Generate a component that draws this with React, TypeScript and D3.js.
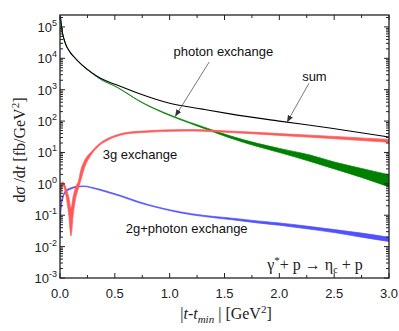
import { useEffect, useRef } from 'react';
import * as d3 from 'd3';

// sum of all contributions (black line)
const sumT = [0.003, 0.018, 0.049, 0.09, 0.14, 0.2, 0.28, 0.37, 0.52, 0.7, 1.0, 1.3, 1.55, 2.0, 2.46, 3.0];
const sumV = [2.2e5, 8e4, 3e4, 1.6e4, 1e4, 6200, 3700, 2300, 1400, 800, 370, 240, 170, 100, 60, 31];

// photon exchange band (green)
const photonT = [0.003, 0.018, 0.049, 0.09, 0.14, 0.2, 0.28, 0.37, 0.52, 0.63, 0.7, 0.85, 1.04, 1.32, 1.55, 1.8, 2.0, 2.28, 2.5, 2.75, 3.0];
const photonHi = [2.2e5, 8e4, 3e4, 1.6e4, 1e4, 6100, 3600, 2150, 1200, 700, 490, 265, 140, 63, 34, 19.5, 13.5, 8.3, 5.0, 3.1, 1.95];
const photonLo = [2.2e5, 8e4, 3e4, 1.6e4, 1e4, 6100, 3600, 2150, 1200, 690, 480, 255, 132, 57, 29, 15.5, 10, 5.2, 3.0, 1.6, 0.8];

// 3g exchange band (red)
const gluonT = [0, 0.01, 0.02, 0.04, 0.06, 0.08, 0.1, 0.12, 0.14, 0.17, 0.19, 0.22, 0.29, 0.35, 0.42, 0.5, 0.6, 0.8, 1.0, 1.2, 1.5, 2.0, 2.5, 3.0];
const gluonHi = [0.22, 0.85, 1.15, 1.0, 0.65, 0.38, 0.17, 0.4, 0.75, 1.3, 2.8, 5.2, 11, 18, 26.5, 35, 43, 49, 52.5, 53.5, 49, 40, 32.5, 26];
const gluonLo = [0.15, 0.6, 0.95, 0.7, 0.32, 0.1, 0.022, 0.1, 0.3, 0.75, 1.3, 3.0, 9, 15.5, 23, 31, 38.5, 44, 47, 48, 44, 35, 27.5, 21];

// 2g+photon exchange band (blue)
const mixT = [0, 0.01, 0.03, 0.05, 0.1, 0.17, 0.22, 0.3, 0.42, 0.55, 0.72, 0.9, 1.09, 1.3, 1.55, 1.8, 2.0, 2.25, 2.5, 2.75, 3.0];
const mixHi = [0.1, 0.25, 0.45, 0.6, 0.75, 0.85, 0.86, 0.76, 0.59, 0.43, 0.27, 0.18, 0.13, 0.1, 0.082, 0.066, 0.057, 0.045, 0.035, 0.027, 0.02];
const mixLo = [0.02, 0.15, 0.38, 0.52, 0.68, 0.8, 0.82, 0.72, 0.55, 0.4, 0.25, 0.17, 0.12, 0.092, 0.073, 0.057, 0.048, 0.037, 0.028, 0.02, 0.0145];

const xTicks = [0, 0.5, 1.0, 1.5, 2.0, 2.5, 3.0];
const yExponents = [-3, -2, -1, 0, 1, 2, 3, 4, 5];

export default function App() {
  const svgRef = useRef<SVGSVGElement>(null);

  useEffect(() => {
    if (!svgRef.current) return;
    const svg = d3.select(svgRef.current);
    svg.selectAll('*').remove();

    const left = 60, right = 389, top = 15, bottom = 278;
    const x = d3.scaleLinear().domain([0, 3]).range([left, right]);
    const y = d3.scaleLog().domain([1e-3, 2.4e5]).range([bottom, top]);

    const sans = 'Liberation Sans, Arial, sans-serif';
    const serif = 'Liberation Serif, Times New Roman, serif';

    svg.append('defs').append('clipPath').attr('id', 'plot-clip')
      .append('rect')
      .attr('x', left).attr('y', top)
      .attr('width', right - left).attr('height', bottom - top);

    const marker = svg.select('defs').append('marker')
      .attr('id', 'arrow')
      .attr('viewBox', '0 0 10 10')
      .attr('refX', 10).attr('refY', 5)
      .attr('markerWidth', 7).attr('markerHeight', 7)
      .attr('markerUnits', 'userSpaceOnUse')
      .attr('orient', 'auto');
    marker.append('path').attr('d', 'M0,1 L10,5 L0,9 Z').attr('fill', '#333');

    const plot = svg.append('g').attr('clip-path', 'url(#plot-clip)');

    const band = (ts: number[], hi: number[], lo: number[]) =>
      d3.area<number>()
        .x(i => x(ts[i]))
        .y0(i => y(lo[i]))
        .y1(i => y(hi[i]))
        .curve(d3.curveMonotoneX)(d3.range(ts.length));

    // bands
    const bands = [
      { t: mixT, hi: mixHi, lo: mixLo, color: '#5050ff' },
      { t: photonT, hi: photonHi, lo: photonLo, color: '#008000' },
      { t: gluonT, hi: gluonHi, lo: gluonLo, color: '#ff5a5a' },
    ];
    bands.forEach(b => {
      plot.append('path')
        .attr('d', band(b.t, b.hi, b.lo))
        .attr('fill', b.color)
        .attr('stroke', b.color)
        .attr('stroke-width', 0.7)
        .attr('stroke-linejoin', 'round');
    });

    // sum line
    const line = d3.line<number>()
      .x(i => x(sumT[i]))
      .y(i => y(sumV[i]))
      .curve(d3.curveMonotoneX);
    plot.append('path')
      .attr('d', line(d3.range(sumT.length)))
      .attr('fill', 'none')
      .attr('stroke', '#000')
      .attr('stroke-width', 1.1);

    // ticks
    const axes = svg.append('g').attr('stroke', '#222');
    const xMinor = d3.range(0, 3.0001, 0.25);
    xMinor.forEach(v => {
      const major = Math.abs(v * 2 - Math.round(v * 2)) < 1e-6;
      const len = major ? 5 : 3;
      axes.append('line').attr('x1', x(v)).attr('x2', x(v)).attr('y1', bottom).attr('y2', bottom - len);
      axes.append('line').attr('x1', x(v)).attr('x2', x(v)).attr('y1', top).attr('y2', top + len);
    });
    yExponents.forEach(e => {
      for (let k = 1; k <= 9; k++) {
        const v = k * Math.pow(10, e);
        if (v > y.domain()[1]) break;
        const len = k === 1 ? 5 : 3;
        axes.append('line').attr('x1', left).attr('x2', left + len).attr('y1', y(v)).attr('y2', y(v));
        axes.append('line').attr('x1', right).attr('x2', right - len).attr('y1', y(v)).attr('y2', y(v));
      }
    });

    // frame
    svg.append('rect')
      .attr('x', left).attr('y', top)
      .attr('width', right - left).attr('height', bottom - top)
      .attr('fill', 'none')
      .attr('stroke', '#222')
      .attr('stroke-width', 1.3);

    // tick labels
    svg.append('g').selectAll('text')
      .data(xTicks)
      .enter()
      .append('text')
      .attr('x', d => x(d))
      .attr('y', 298)
      .attr('text-anchor', 'middle')
      .style('font-family', sans)
      .style('font-size', '13px')
      .style('fill', '#222')
      .text(d => d.toFixed(1));

    const yl = svg.append('g').selectAll('text')
      .data(yExponents)
      .enter()
      .append('text')
      .attr('x', 57)
      .attr('y', d => y(Math.pow(10, d)) + 5)
      .attr('text-anchor', 'end')
      .style('font-family', sans)
      .style('font-size', '13px')
      .style('fill', '#222');
    yl.append('tspan').text('10');
    yl.append('tspan').attr('dy', -6).style('font-size', '9px').text(d => String(d));

    // axis titles
    const xt = svg.append('text')
      .attr('x', 226).attr('y', 319)
      .attr('text-anchor', 'middle')
      .style('font-family', serif)
      .style('font-size', '16px')
      .style('fill', '#222');
    xt.append('tspan').text('|');
    xt.append('tspan').style('font-style', 'italic').text('t');
    xt.append('tspan').text('-');
    xt.append('tspan').style('font-style', 'italic').text('t');
    xt.append('tspan').attr('dy', 4).style('font-style', 'italic').style('font-size', '11px').text('min');
    xt.append('tspan').attr('dy', -4).text(' | [GeV');
    xt.append('tspan').attr('dy', -6).style('font-size', '11px').text('2');
    xt.append('tspan').attr('dy', 6).text(']');

    const yt = svg.append('text')
      .attr('transform', 'translate(25,150) rotate(-90)')
      .attr('text-anchor', 'middle')
      .style('font-family', serif)
      .style('font-size', '16px')
      .style('fill', '#222');
    yt.append('tspan').text('d');
    yt.append('tspan').style('font-style', 'italic').text('σ');
    yt.append('tspan').text(' /d');
    yt.append('tspan').style('font-style', 'italic').text('t');
    yt.append('tspan').text(' [fb/GeV');
    yt.append('tspan').attr('dy', -6).style('font-size', '11px').text('2');
    yt.append('tspan').attr('dy', 6).text(']');

    // curve labels
    const label = (t: number, v: number, txt: string, anchor: string) =>
      svg.append('text')
        .attr('x', x(t)).attr('y', y(v))
        .attr('text-anchor', anchor)
        .attr('dominant-baseline', 'middle')
        .style('font-family', sans)
        .style('font-size', '13px')
        .style('fill', '#111')
        .text(txt);
    label(1.49, 1.5e4, 'photon exchange', 'middle');
    label(2.32, 2500, 'sum', 'middle');
    label(0.39, 7.7, '3g exchange', 'start');
    label(0.6, 0.034, '2g+photon exchange', 'start');

    const arrow = (t0: number, v0: number, t1: number, v1: number) =>
      svg.append('line')
        .attr('x1', x(t0)).attr('y1', y(v0))
        .attr('x2', x(t1)).attr('y2', y(v1))
        .attr('stroke', '#555')
        .attr('stroke-width', 0.8)
        .attr('marker-end', 'url(#arrow)');
    arrow(1.36, 7600, 1.05, 140);
    arrow(2.27, 1600, 2.07, 92);

    // reaction
    const rx = svg.append('text')
      .attr('x', x(1.89)).attr('y', y(0.0018))
      .style('font-family', serif)
      .style('font-size', '16px')
      .style('fill', '#222');
    rx.append('tspan').text('γ');
    rx.append('tspan').attr('dy', -6).style('font-size', '11px').text('*');
    rx.append('tspan').attr('dy', 6).text('+ p → η');
    rx.append('tspan').attr('dy', 3).style('font-size', '10px').text('c');
    rx.append('tspan').attr('dy', -3).text(' + p');
  }, []);

  return (
    <svg
      ref={svgRef}
      width={399}
      height={331}
      style={{ position: 'fixed', left: 0, top: 0, background: '#fff', display: 'block' }}
    />
  );
}
